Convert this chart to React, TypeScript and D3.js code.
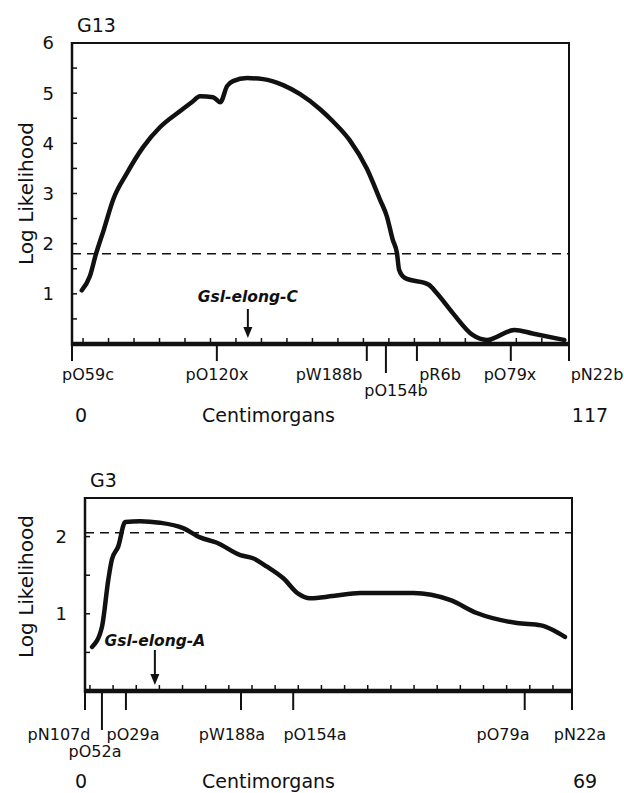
import React from 'react';
import * as d3 from 'd3';

const W = 624;
const H = 793;
const FONT = '"DejaVu Sans", Verdana, sans-serif';

// ---- G13 linkage group (0..117 cM) ----
const G13_CM = [2.3, 4.2, 5.6, 7.5, 9.7, 12.9, 16.7, 20.7, 25.4, 28.5, 30.1, 33.2, 34.9, 36.5, 37.9, 41.2, 45.0, 49.7, 53.7, 58.4, 61.4, 65.4, 69.4, 72.5, 74.1, 75.5, 76.5, 77.0, 78.3, 84.0, 85.8, 89.6, 94.3, 97.6, 104.2, 108.4, 115.9];
const G13_LOD = [1.07, 1.35, 1.78, 2.28, 2.88, 3.4, 3.92, 4.32, 4.64, 4.84, 4.94, 4.92, 4.82, 5.14, 5.24, 5.3, 5.28, 5.16, 4.98, 4.68, 4.44, 4.06, 3.5, 2.88, 2.55, 2.08, 1.81, 1.48, 1.32, 1.18, 1.02, 0.62, 0.18, 0.08, 0.28, 0.21, 0.08];
const G13_MARKERS = ['pO59c', 'pO120x', 'pW188b', 'pO154b', 'pR6b', 'pO79x', 'pN22b'];
const G13_MARKER_CM = [0, 34.1, 69.4, 73.9, 81.2, 103.3, 117];
const G13_Y_LABELS = [1, 2, 3, 4, 5, 6];
const G13_Y_TICKS = [0.5, 1, 1.5, 2, 2.5, 3, 3.5, 4, 4.5, 5, 5.5];
const G13_THRESHOLD = 1.8;
const G13_GENE = 'Gsl-elong-C';
const G13_GENE_CM = 41.4;

// ---- G3 linkage group (0..69 cM) ----
const G3_CM = [1.0, 2.4, 3.3, 3.8, 4.7, 5.7, 7.8, 10.6, 13.9, 16.3, 18.7, 22.0, 23.8, 25.8, 28.1, 30.2, 31.9, 35.1, 39.0, 46.5, 51.7, 55.5, 61.2, 64.6, 66.3, 68.0];
const G3_LOD = [0.57, 0.83, 1.44, 1.7, 1.87, 2.19, 2.2, 2.18, 2.11, 1.99, 1.92, 1.76, 1.72, 1.61, 1.46, 1.26, 1.2, 1.23, 1.27, 1.27, 1.18, 1.01, 0.88, 0.85, 0.79, 0.7];
const G3_MARKERS = ['pN107d', 'pO52a', 'pO29a', 'pW188a', 'pO154a', 'pO79a', 'pN22a'];
const G3_MARKER_CM = [0, 2.4, 5.8, 22.1, 29.5, 62.3, 69];
const G3_Y_LABELS = [1, 2];
const G3_Y_TICKS = [0.5, 1, 1.5, 2];
const G3_THRESHOLD = 2.05;
const G3_GENE = 'Gsl-elong-A';
const G3_GENE_CM = 9.9;

// layout for each panel (pixels)
const top = {
  title: 'G13', length: 117, yMax: 6,
  left: 72, right: 569, top: 43, bottom: 344,
  minorStart: 2.6, minorStep: 6,
  row1: 380, row2: 396, tick1: 17, tick2: 29,
  row2Markers: ['pO154b'],
  labelX: { pO59c: 88, pO120x: 217, pW188b: 329, pO154b: 396, pR6b: 440, pO79x: 510, pN22b: 597 },
  geneY: 302, arrowTop: 309, cmY: 422, endLabelX: 590, zeroX: 81, axisLabelDy: 0,
};
const bottom = {
  title: 'G3', length: 69, yMax: 2.5,
  left: 85, right: 572, top: 498, bottom: 691,
  minorStart: 0.7, minorStep: 3.28,
  row1: 740, row2: 757, tick1: 19, tick2: 39,
  row2Markers: ['pO52a'],
  labelX: { pN107d: 59, pO52a: 95, pO29a: 133, pW188a: 232, pO154a: 315, pO79a: 503, pN22a: 580 },
  geneY: 646, arrowTop: 650, cmY: 788, endLabelX: 585, zeroX: 81, axisLabelDy: -8,
};

function Panel({ L, cm, lod, markers, markerCm, yLabels, yTicks, threshold, gene, geneCm }) {
  const x = d3.scaleLinear().domain([0, L.length]).range([L.left, L.right]);
  const y = d3.scaleLinear().domain([0, L.yMax]).range([L.bottom, L.top]);
  const line = d3.line<number>()
    .x((_, i) => x(cm[i]))
    .y(d => y(d))
    .curve(d3.curveMonotoneX);
  const minor = d3.range(L.minorStart, L.length - 0.5, L.minorStep);
  const gx = x(geneCm);

  return (
    <g fontFamily={FONT} fill="#111">
      <text x={L.left + 5} y={L.top - 11} fontSize={19}>{L.title}</text>
      <text
        transform={`translate(33,${(L.top + L.bottom) / 2 + L.axisLabelDy}) rotate(-90)`}
        textAnchor="middle" fontSize={20}>Log Likelihood</text>

      {/* frame */}
      <line x1={L.left} x2={L.right} y1={L.top} y2={L.top} stroke="#111" strokeWidth={1.8} />
      <line x1={L.right} x2={L.right} y1={L.top - 1} y2={L.bottom} stroke="#111" strokeWidth={2} />
      <line x1={L.left} x2={L.left} y1={L.top - 1} y2={L.bottom + 2} stroke="#111" strokeWidth={2.5} />

      {/* y ticks */}
      {yTicks.map(t => (
        <line key={t} x1={L.left} x2={L.left + 5} y1={y(t)} y2={y(t)} stroke="#111" strokeWidth={1.5} />
      ))}
      {yLabels.map(t => (
        <text key={t} x={L.left - 18} y={y(t)} dy="0.36em" textAnchor="end" fontSize={18}>{t}</text>
      ))}

      {/* threshold */}
      <line x1={L.left} x2={L.right} y1={y(threshold)} y2={y(threshold)}
        stroke="#111" strokeWidth={1.6} strokeDasharray="9 6" />

      {/* x axis */}
      {minor.map(t => (
        <line key={t} x1={x(t)} x2={x(t)} y1={L.bottom} y2={L.bottom - 6} stroke="#111" strokeWidth={1.5} />
      ))}
      {markers.map((m, i) => {
        const two = L.row2Markers.includes(m);
        return (
          <g key={m}>
            <line x1={x(markerCm[i])} x2={x(markerCm[i])} y1={L.bottom}
              y2={L.bottom + (two ? L.tick2 : L.tick1)} stroke="#111" strokeWidth={2} />
            <text x={L.labelX[m]} y={two ? L.row2 : L.row1} textAnchor="middle" fontSize={16}>{m}</text>
          </g>
        );
      })}
      <line x1={L.left - 1} x2={L.right + 1} y1={L.bottom} y2={L.bottom} stroke="#111" strokeWidth={4.5} />

      <text x={L.zeroX} y={L.cmY} textAnchor="middle" fontSize={19}>0</text>
      <text x={202} y={L.cmY} fontSize={19}>Centimorgans</text>
      <text x={L.endLabelX} y={L.cmY} textAnchor="middle" fontSize={19}>{L.length}</text>

      {/* LOD curve */}
      <path d={line(lod) || ''} fill="none" stroke="#111" strokeWidth={4.5}
        strokeLinejoin="round" strokeLinecap="round" />

      {/* gene position */}
      <text x={gx} y={L.geneY} textAnchor="middle" fontSize={15.5}
        fontWeight="bold" fontStyle="italic">{gene}</text>
      <line x1={gx} x2={gx} y1={L.arrowTop} y2={L.bottom - 14} stroke="#111" strokeWidth={2} />
      <path d={`M${gx - 4.5},${L.bottom - 17} L${gx + 4.5},${L.bottom - 17} L${gx},${L.bottom - 6} Z`} fill="#111" />
    </g>
  );
}

export default function App() {
  return (
    <svg width={W} height={H} style={{ position: 'absolute', left: 0, top: 0, background: '#fff' }}>
      <rect width={W} height={H} fill="#fff" />
      <Panel L={top} cm={G13_CM} lod={G13_LOD} markers={G13_MARKERS} markerCm={G13_MARKER_CM}
        yLabels={G13_Y_LABELS} yTicks={G13_Y_TICKS} threshold={G13_THRESHOLD}
        gene={G13_GENE} geneCm={G13_GENE_CM} />
      <Panel L={bottom} cm={G3_CM} lod={G3_LOD} markers={G3_MARKERS} markerCm={G3_MARKER_CM}
        yLabels={G3_Y_LABELS} yTicks={G3_Y_TICKS} threshold={G3_THRESHOLD}
        gene={G3_GENE} geneCm={G3_GENE_CM} />
    </svg>
  );
}
